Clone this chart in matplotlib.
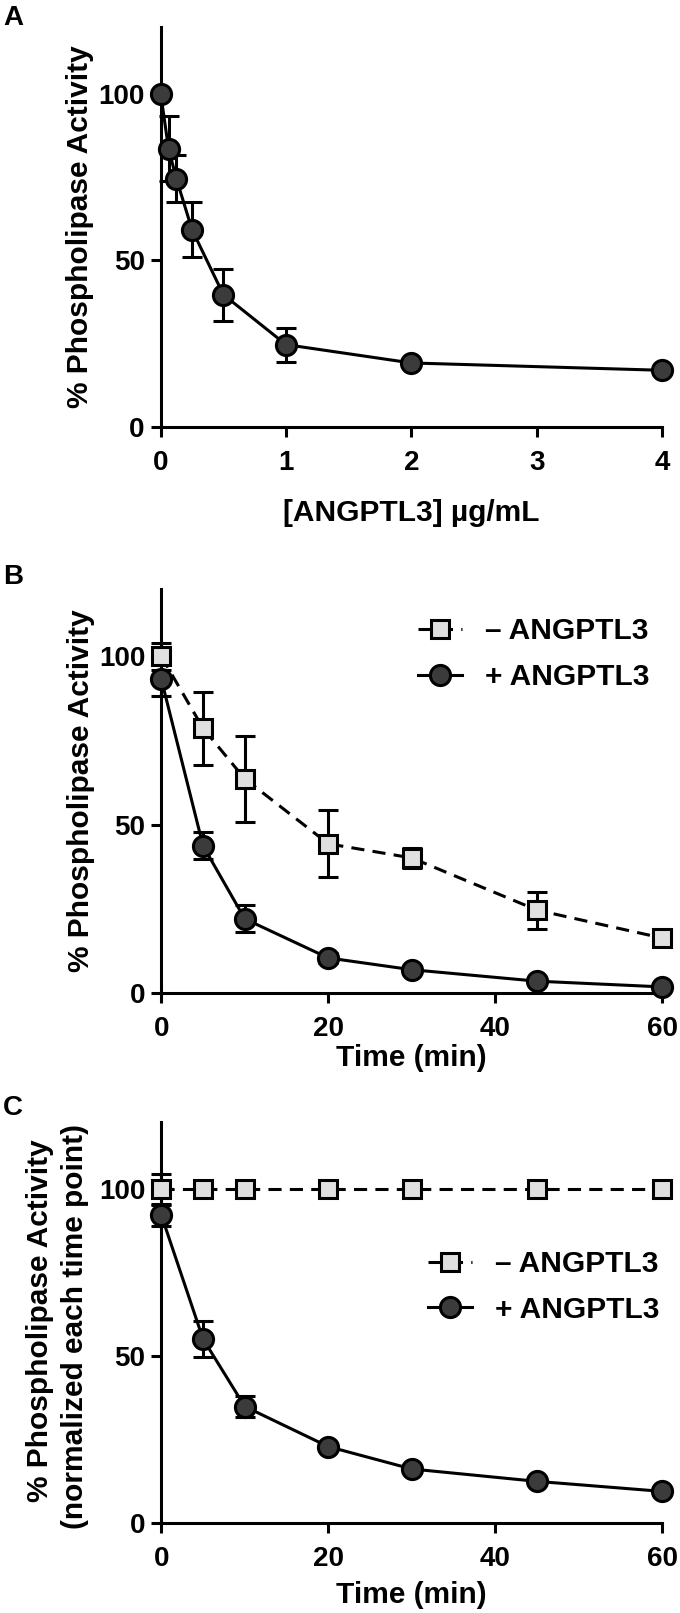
import matplotlib
matplotlib.use("Agg")
import matplotlib.pyplot as plt

plt.rcParams['font.family'] = ['Liberation Sans', 'DejaVu Sans']
plt.rcParams['font.weight'] = 'bold'

# ---------------- data ----------------
conc = [0, 0.0625, 0.125, 0.25, 0.5, 1, 2, 4]
actA = [100, 83.5, 74.5, 59.2, 39.7, 24.7, 19.2, 17.0]
errA = [0, 9.7, 7.0, 8.3, 7.8, 5.1, 1.0, 1.0]

time = [0, 5, 10, 20, 30, 45, 60]
actB_minus = [100, 78.6, 63.6, 44.3, 40.1, 24.6, 16.3]
errB_minus = [4.0, 10.8, 12.8, 10.0, 3.0, 5.5, 2.0]
actB_plus = [93.2, 43.7, 22.0, 10.4, 6.9, 3.5, 1.8]
errB_plus = [5.0, 4.0, 4.0, 1.5, 1.0, 1.0, 1.0]

actC_minus = [100, 100, 100, 100, 100, 100, 100]
errC_minus = [4.6, 0.5, 0.5, 0.5, 0.5, 0.5, 0.5]
actC_plus = [92.3, 55.2, 35.0, 23.0, 16.3, 12.6, 9.6]
errC_plus = [3.3, 5.4, 3.1, 1.0, 1.0, 1.0, 1.0]

xticksA = [0, 1, 2, 3, 4]
xticksT = [0, 20, 40, 60]
yticks = [0, 50, 100]
legend_labels = ['– ANGPTL3', '+ ANGPTL3']

# ---------------- style ----------------
LW = 2.2
DARK = '#3b3b3b'
LIGHT = '#e0e0e0'
TICKFS = 20
LABFS = 21.5

fig = plt.figure(figsize=(6.8, 16.13), dpi=100)
axA = fig.add_axes([0.2363, 0.7353, 0.7372, 0.2480])
axB = fig.add_axes([0.2372, 0.3844, 0.7368, 0.2505])
axC = fig.add_axes([0.2372, 0.0555, 0.7368, 0.2486])


def style(ax, xlim, xticks):
    ax.set_xlim(*xlim)
    ax.set_ylim(0, 120)
    for s in ['top', 'right']:
        ax.spines[s].set_visible(False)
    for s in ['left', 'bottom']:
        ax.spines[s].set_linewidth(LW)
    ax.set_xticks(xticks)
    ax.set_yticks(yticks)
    ax.tick_params(axis='both', width=LW, length=7.5, labelsize=TICKFS)
    ax.tick_params(axis='y', pad=4)
    ax.tick_params(axis='x', pad=9)
    for lab in ax.get_xticklabels() + ax.get_yticklabels():
        lab.set_fontweight('bold')


def series(ax, x, y, err, face, ls, ms, marker):
    ax.errorbar(x, y, yerr=err, fmt='none', ecolor='black', elinewidth=LW,
                capsize=7, capthick=LW, zorder=2, clip_on=False)
    line, = ax.plot(x, y, linestyle=ls, color='black', lw=LW, marker=marker,
                    markersize=ms, markerfacecolor=face, markeredgecolor='black',
                    markeredgewidth=LW, zorder=3, clip_on=False)
    return line


DASH = (0, (4.3, 2.7))

# Panel A
series(axA, conc, actA, errA, DARK, '-', 14.5, 'o')
style(axA, (0, 4), xticksA)
axA.set_xlabel('[ANGPTL3] µg/mL', fontsize=LABFS, fontweight='bold', va='center')
axA.xaxis.set_label_coords(0.5, -0.215)
axA.set_ylabel('% Phospholipase Activity', fontsize=LABFS, fontweight='bold', va='baseline')
axA.yaxis.set_label_coords(-0.1444, 0.5)

# Panel B
lBm = series(axB, time, actB_minus, errB_minus, LIGHT, DASH, 13, 's')
lBp = series(axB, time, actB_plus, errB_plus, DARK, '-', 14.5, 'o')
style(axB, (0, 60), xticksT)
axB.set_xlabel('Time (min)', fontsize=LABFS, fontweight='bold', va='center')
axB.xaxis.set_label_coords(0.5, -0.161)
axB.set_ylabel('% Phospholipase Activity', fontsize=LABFS, fontweight='bold', va='baseline')
axB.yaxis.set_label_coords(-0.1444, 0.5)
axB.legend([lBm, lBp], legend_labels, loc='upper left', bbox_to_anchor=(0.513, 0.93),
           frameon=False, borderpad=0, borderaxespad=0, handlelength=1.47,
           handletextpad=0.77, labelspacing=0.6, numpoints=1,
           prop=dict(weight='bold', size=LABFS))

# Panel C
lCm = series(axC, time, actC_minus, errC_minus, LIGHT, DASH, 13, 's')
lCp = series(axC, time, actC_plus, errC_plus, DARK, '-', 14.5, 'o')
style(axC, (0, 60), xticksT)
axC.set_xlabel('Time (min)', fontsize=LABFS, fontweight='bold', va='center')
axC.xaxis.set_label_coords(0.5, -0.178)
axC.set_ylabel('% Phospholipase Activity', fontsize=LABFS, fontweight='bold', va='baseline')
axC.yaxis.set_label_coords(-0.2271, 0.505)
axC.text(-0.1553, 0.49, '(normalized each time point)', transform=axC.transAxes,
         rotation=90, rotation_mode='anchor', ha='center', va='baseline',
         fontsize=LABFS, fontweight='bold')
axC.legend([lCm, lCp], legend_labels, loc='upper left', bbox_to_anchor=(0.532, 0.682),
           frameon=False, borderpad=0, borderaxespad=0, handlelength=1.47,
           handletextpad=0.77, labelspacing=0.6, numpoints=1,
           prop=dict(weight='bold', size=LABFS))

# Panel letters
for letter, ypix in [('A', 18), ('B', 577), ('C', 1108)]:
    fig.text(3 / 680, 1 - ypix / 1613, letter, ha='left', va='center',
             fontsize=20, fontweight='bold')

fig.savefig('out.png', dpi=100)
